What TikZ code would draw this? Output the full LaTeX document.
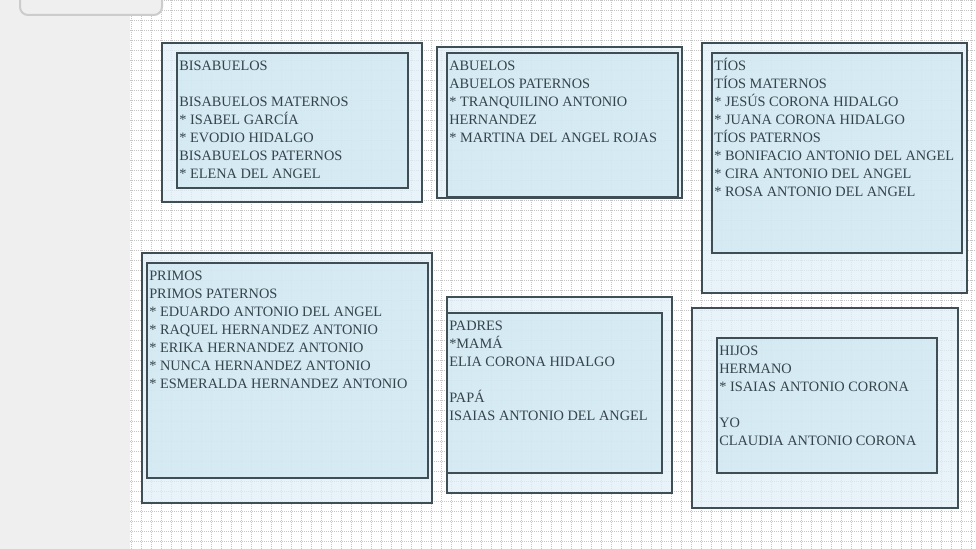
\documentclass[tikz,border=0pt]{standalone}
\usepackage{fontspec}
\setmainfont{Liberation Serif}
\usepackage{tikz}
\usetikzlibrary{fit}
\definecolor{slate}{HTML}{3F4D55}
\definecolor{inktext}{HTML}{35434B}
\definecolor{outerblue}{RGB}{224,240,248}
\definecolor{innerblue}{RGB}{207,231,241}
\definecolor{sidegray}{HTML}{EFEFEF}
\definecolor{tabline}{HTML}{CCCCCC}
\tikzstyle{frame} = [rectangle, inner sep=0pt, draw=slate, line width=1.5pt, fill=outerblue, fill opacity=0.75]
\tikzstyle{panel} = [rectangle, inner sep=0pt, draw=slate, line width=1.5pt, fill=innerblue, fill opacity=0.75]
\tikzstyle{names} = [anchor=north west, inner sep=0pt, align=left, text=inktext, font=\fontsize{10.75}{13.5}\selectfont]
\tikzstyle{gridline} = [gray!45, line width=0.75pt, dash pattern=on 0.75pt off 0.75pt]

\begin{document}
\begin{tikzpicture}[x=0.75pt, y=-0.75pt]
	\useasboundingbox (0,0) rectangle (976,549);
	\fill [white] (130,0) rectangle (976,549);
	\foreach \gx in {131,141,...,971} \draw [gridline] (\gx,0) -- (\gx,549);
	\foreach \gy in {1,11,...,541} \draw [gridline] (130,\gy) -- (976,\gy);
	\fill [sidegray] (0,0) rectangle (130,549);
	\node (tab) [draw=tabline, fill=sidegray, line width=1.5pt, rounded corners=6pt, inner sep=0pt, fit={(20,-12) (162,15)}] {};

	\node (blok1) [frame, fit={(162,43) (422,202)}] {};
	\node (box1) [panel, fit={(177,53) (408,188)}] {};
	\node (list1) [names] at ([shift={(3,5.9)}]box1.north west) {\strut BISABUELOS\\ {}\\BISABUELOS MATERNOS\\* ISABEL GARCÍA\\* EVODIO HIDALGO\\BISABUELOS PATERNOS\\* ELENA DEL ANGEL};

	\node (blok2) [frame, fit={(437,47) (682,198)}] {};
	\node (box2) [panel, fit={(447,53) (678,197)}] {};
	\node (list2) [names] at ([shift={(3,5.9)}]box2.north west) {\strut ABUELOS\\ABUELOS PATERNOS\\* TRANQUILINO ANTONIO\\HERNANDEZ\\* MARTINA DEL ANGEL ROJAS};

	\node (blok3) [frame, fit={(702,43) (967,293)}] {};
	\node (box3) [panel, fit={(712,53) (962,253)}] {};
	\node (list3) [names] at ([shift={(3,5.9)}]box3.north west) {\strut TÍOS\\TÍOS MATERNOS\\* JESÚS CORONA HIDALGO\\* JUANA CORONA HIDALGO\\TÍOS PATERNOS\\* BONIFACIO ANTONIO DEL ANGEL\\* CIRA ANTONIO DEL ANGEL\\* ROSA ANTONIO DEL ANGEL};

	\node (blok4) [frame, fit={(142,253) (432,503)}] {};
	\node (box4) [panel, fit={(147,263) (428,478)}] {};
	\node (list4) [names] at ([shift={(3,5.9)}]box4.north west) {\strut PRIMOS\\PRIMOS PATERNOS\\* EDUARDO ANTONIO DEL ANGEL\\* RAQUEL HERNANDEZ ANTONIO\\* ERIKA HERNANDEZ ANTONIO\\* NUNCA HERNANDEZ ANTONIO\\* ESMERALDA HERNANDEZ ANTONIO};

	\node (blok5) [frame, fit={(447,297) (672,493)}] {};
	\node (box5) [panel, fit={(447,313) (662,473)}] {};
	\node (list5) [names] at ([shift={(3,5.9)}]box5.north west) {\strut PADRES\\*MAMÁ\\ELIA CORONA HIDALGO\\ {}\\PAPÁ\\ISAIAS ANTONIO DEL ANGEL};

	\node (blok6) [frame, fit={(692,308) (958,508)}] {};
	\node (box6) [panel, fit={(717,338) (937,473)}] {};
	\node (list6) [names] at ([shift={(3,5.9)}]box6.north west) {\strut HIJOS\\HERMANO\\* ISAIAS ANTONIO CORONA\\ {}\\YO\\CLAUDIA ANTONIO CORONA};
\end{tikzpicture}
\end{document}
